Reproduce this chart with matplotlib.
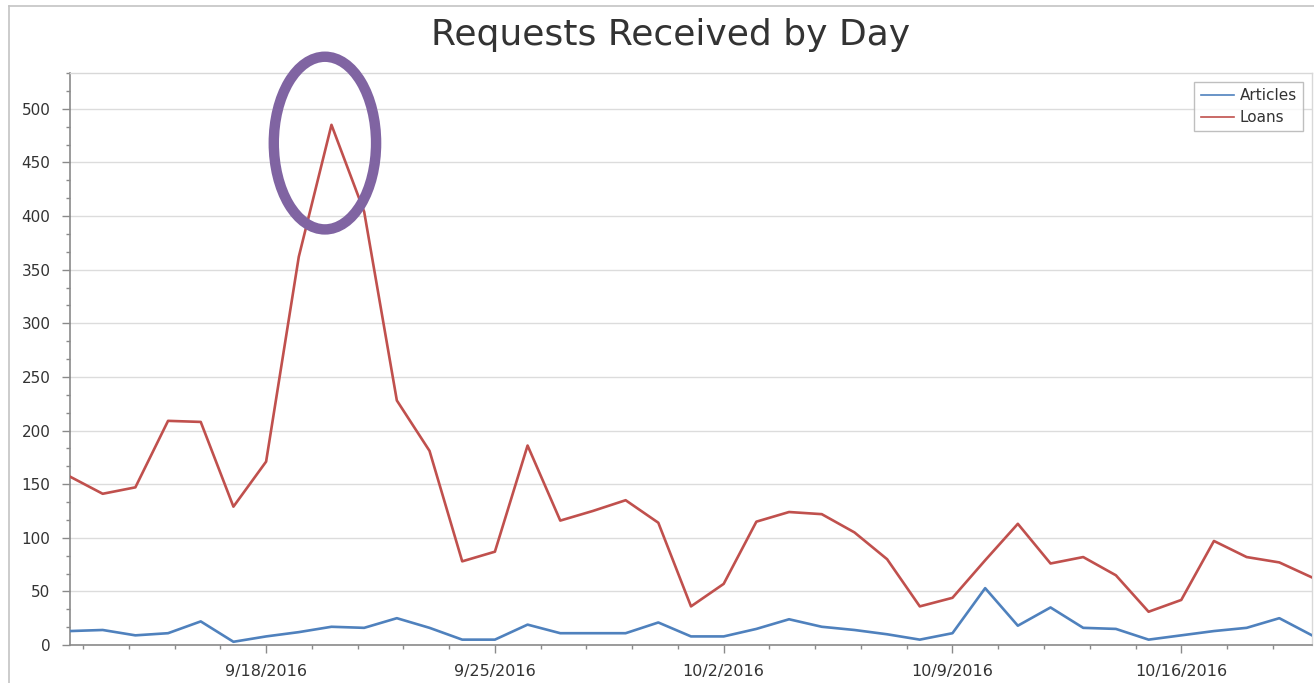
import numpy as np
import pandas as pd
import matplotlib
matplotlib.use('Agg')
import matplotlib.pyplot as plt
import matplotlib.dates as mdates
from matplotlib.patches import Ellipse
from matplotlib.lines import Line2D
from matplotlib.ticker import FixedLocator, FuncFormatter, MultipleLocator

# daily counts, 9/12/2016 .. 10/20/2016
dates = pd.date_range('2016-09-12', '2016-10-20', freq='D')
articles = [13, 14, 9, 11, 22, 3, 8, 12, 17, 16, 25, 16, 5, 5, 19, 11, 11, 11, 21, 8,
            8, 15, 24, 17, 14, 10, 5, 11, 53, 18, 35, 16, 15, 5, 9, 13, 16, 25, 9]
loans = [157, 141, 147, 209, 208, 129, 171, 362, 485, 404, 228, 181, 78, 87, 186, 116,
         125, 135, 114, 36, 57, 115, 124, 122, 105, 80, 36, 44, 79, 113, 76, 82, 65,
         31, 42, 97, 82, 77, 63]
week_ticks = pd.date_range('2016-09-18', periods=5, freq='7D')

blue = '#4F81BD'
red = '#C0504D'
purple = '#8064A2'

W, H = 1314, 683
fig = plt.figure(figsize=(W / 100, H / 100), dpi=100)
ax = fig.add_axes([70 / W, 1 - 645 / H, (1312 - 70) / W, (645 - 73) / H])

ax.plot(dates, articles, color=blue, lw=1.9, label='Articles', zorder=3)
ax.plot(dates, loans, color=red, lw=1.9, label='Loans', zorder=3)

x0 = mdates.date2num(dates[0])
ax.set_xlim(x0, x0 + 38)
ax.set_ylim(0, 533.34)

major = mdates.date2num(week_ticks)
ax.xaxis.set_major_locator(FixedLocator(major))
ax.xaxis.set_minor_locator(FixedLocator(np.arange(major[0] - 1.4 * 5, major[-1] + 7, 1.4)))


def fmt_date(v, pos):
    d = mdates.num2date(v)
    return f"{d.month}/{d.day}/{d.year}"


ax.xaxis.set_major_formatter(FuncFormatter(fmt_date))
ax.yaxis.set_major_locator(MultipleLocator(50))
ax.yaxis.set_minor_locator(MultipleLocator(50 / 3))

ax.grid(axis='y', which='major', color='#dcdcdc', lw=1)
ax.set_axisbelow(True)
for s in ['left', 'bottom']:
    ax.spines[s].set_color('#8a8a8a')
    ax.spines[s].set_linewidth(1.2)
for s in ['top', 'right']:
    ax.spines[s].set_color('#d8d8d8')
    ax.spines[s].set_linewidth(1)

ax.tick_params(which='major', length=6, width=1, color='#8a8a8a', labelsize=11,
               labelcolor='#333333', pad=8)
ax.tick_params(axis='x', which='major', labelsize=11.5)
ax.tick_params(which='minor', length=3, width=1, color='#8a8a8a')

leg = ax.legend(loc='upper right', fontsize=11, frameon=True, fancybox=False,
                edgecolor='#b0b0b0', handlelength=2.2, handletextpad=0.35,
                labelspacing=0.45, borderaxespad=0.6, borderpad=0.4,
                labelcolor='#333333')
leg.get_frame().set_linewidth(1)
for line in leg.get_lines():
    line.set_linewidth(1.2)

# highlight around the peak
ax.add_patch(Ellipse((x0 + 7.8, 468), width=3.13, height=161, fill=False,
                     ec=purple, lw=7.5, clip_on=False, zorder=5))

fig.text(671 / W, 1 - 35 / H, 'Requests Received by Day', ha='center', va='center',
         fontsize=26, color='#333333')

# outer chart frame
fig.add_artist(Line2D([9 / W, 9 / W], [0, 1 - 6 / H], color='#c4c4c4', lw=1.2,
                      transform=fig.transFigure))
fig.add_artist(Line2D([9 / W, 1], [1 - 6 / H, 1 - 6 / H], color='#c4c4c4', lw=1.2,
                      transform=fig.transFigure))

fig.savefig('out.png', dpi=100)
